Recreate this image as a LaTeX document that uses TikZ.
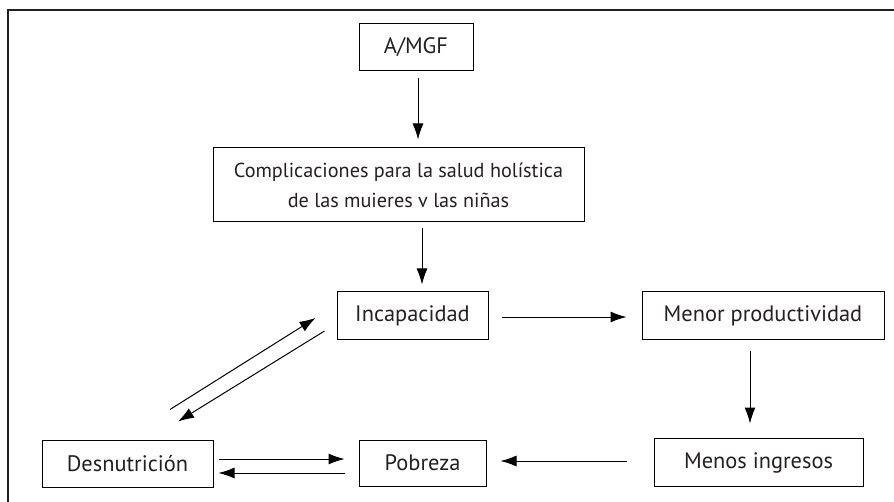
\documentclass[tikz,border=0pt]{standalone}
\usepackage{fontspec}
\setmainfont{PT Sans}
\usetikzlibrary{arrows.meta}
\definecolor{inkgray}{rgb}{0.14, 0.12, 0.13}

\begin{document}
\begin{tikzpicture}[
    x=0.5pt, y=-0.5pt,
    >={Latex[length=8pt,width=5.5pt]},
    caja/.style={draw, line width=0.5pt, inner sep=0pt, text=inkgray,
                 font=\fontsize{11.2}{15.5}\selectfont, align=center},
    flecha/.style={->, line width=0.5pt}]

    \useasboundingbox (0,0) rectangle (894,502);
    \draw [line width=1pt, inkgray] (8,502) -- (8,10) -- (894,10);

    \node[caja, minimum width=57pt, minimum height=23.5pt] (mgf) at (416,47.5) {A/MGF};
    \node[caja, minimum width=185.5pt, minimum height=37pt,
          font=\fontsize{10.1}{15}\selectfont] (comp) at (398.5,185)
        {Complicaciones para la salud holística\\de las muieres v las niñas};
    \node[caja, minimum width=75.5pt, minimum height=23.5pt] (incap) at (412.5,315.5) {Incapacidad};
    \node[caja, minimum width=121pt, minimum height=23.5pt] (menor) at (763,315.5) {Menor productividad};
    \node[caja, minimum width=104.5pt, minimum height=24pt] (menos) at (758.5,462.5) {Menos ingresos};
    \node[caja, minimum width=63.5pt, minimum height=23pt] (pobreza) at (422.5,463) {Pobreza};
    \node[caja, minimum width=85.5pt, minimum height=23.5pt] (desn) at (127.5,463.5) {Desnutrición};

    % cadena principal
    \draw[flecha] ([shift={(2,7)}]mgf.south) -- ([shift={(19.5,-8)}]comp.north);
    \draw[flecha] ([shift={(23.5,6)}]comp.south) -- ([shift={(9.5,-7)}]incap.north);
    \draw[flecha] ([shift={(13,1.5)}]incap.east) -- ([shift={(-15,1.5)}]menor.west);
    \draw[flecha] ([shift={(-13,11)}]menor.south) -- ([shift={(-8.5,-14.5)}]menos.north);
    \draw[flecha] ([shift={(-27,-1.5)}]menos.west) -- ([shift={(14,-2)}]pobreza.east);

    % ciclo
    \draw[flecha] ([shift={(5,-4.5)}]desn.east) -- ([shift={(-14,-4)}]pobreza.west);
    \draw[flecha] ([shift={(-14,10)}]pobreza.west) -- ([shift={(5,9.5)}]desn.east);
    \draw[flecha] ([shift={(42.5,-30)}]desn.north) -- ([shift={(-21,2.5)}]incap.west);
    \draw[flecha] ([shift={(-12,15.5)}]incap.west) -- ([shift={(50.5,-18)}]desn.north);

\end{tikzpicture}
\end{document}
